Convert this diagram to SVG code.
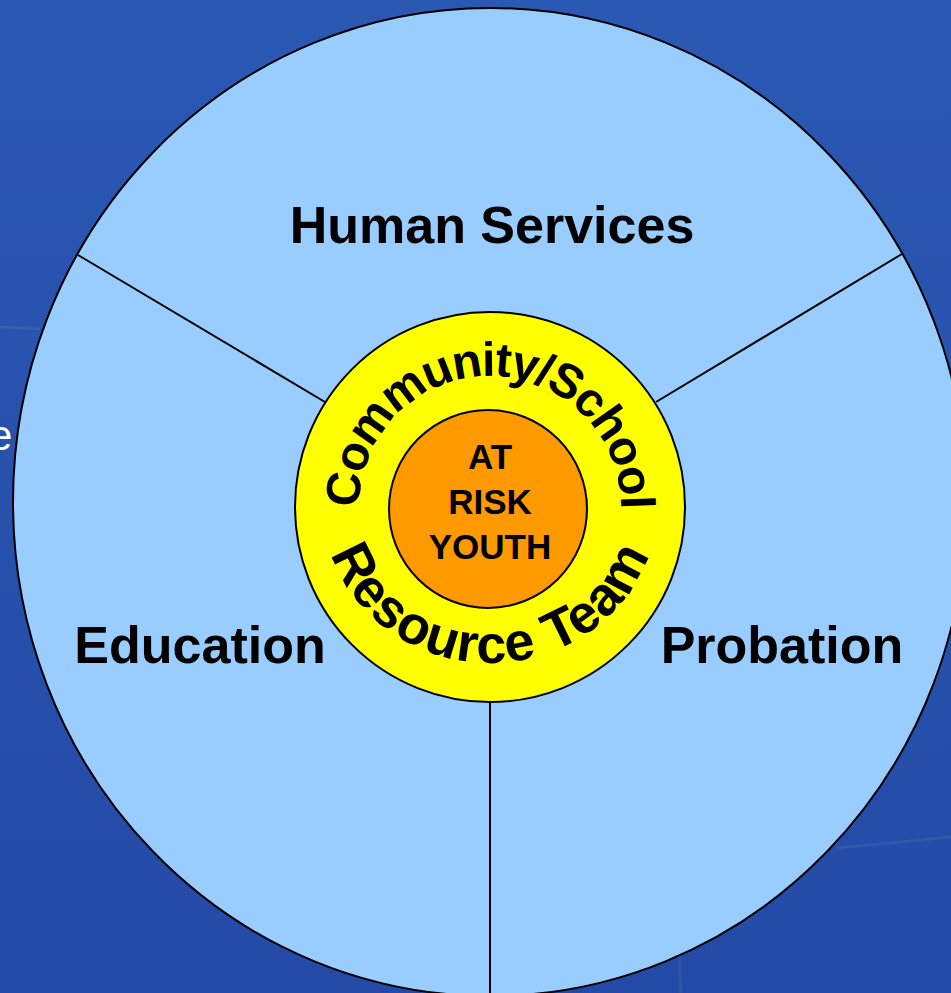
<svg xmlns="http://www.w3.org/2000/svg" xmlns:xlink="http://www.w3.org/1999/xlink" width="951" height="993" viewBox="0 0 951 993">
  <defs>
    <linearGradient id="bg" x1="0" y1="0" x2="0" y2="1">
      <stop offset="0" stop-color="#2a58b3"/>
      <stop offset="1" stop-color="#244aa7"/>
    </linearGradient>
    <path id="topArc" d="M 490,638 A 131 131 0 0 1 490,376 A 131 131 0 0 1 490,638"/>
    <path id="botArc" d="M 490,347 A 167 158 0 0 0 490,663 A 167 158 0 0 0 490,347"/>
    <style>
      .lbl { font-family: "Liberation Sans", Arial, Helvetica, sans-serif; font-weight: bold; fill: #000; }
      .big { font-size: 52px; text-anchor: middle; }
      .core { font-size: 35px; text-anchor: middle; }
      .edge { stroke: #000; stroke-width: 2; fill: none; }
      .streak { stroke: #ffffff; stroke-opacity: 0.06; stroke-width: 3; fill: none; }
    </style>
  </defs>

  <rect id="background" x="0" y="0" width="951" height="993" fill="url(#bg)"/>
  <path class="streak" d="M 0,327 L 40,329"/>
  <path class="streak" d="M 837,848 L 951,837"/>
  <path class="streak" d="M 679,955 L 681,993"/>
  <text x="-11" y="450" font-family="'Liberation Sans', Arial, sans-serif" font-size="42" fill="#ffffff">e</text>

  <g id="outer-circle">
    <ellipse cx="490" cy="502" rx="477" ry="494" fill="#99ccff" stroke="#000" stroke-width="2"/>
  </g>

  <g id="connectors">
    <line class="edge" x1="78" y1="255" x2="325" y2="402"/>
    <line class="edge" x1="902" y1="254" x2="656" y2="402"/>
    <line class="edge" x1="490" y1="702" x2="490" y2="993"/>
  </g>

  <g id="human-services">
    <text class="lbl big" x="492" y="243">Human Services</text>
  </g>
  <g id="education">
    <text class="lbl big" x="200" y="663">Education</text>
  </g>
  <g id="probation">
    <text class="lbl big" x="782" y="663">Probation</text>
  </g>

  <g id="community-school-resource-team">
    <circle cx="490" cy="507" r="195" fill="#ffff00" stroke="#000" stroke-width="2"/>
    <text class="lbl" font-size="48" letter-spacing="-1.5"><textPath xlink:href="#topArc" href="#topArc" startOffset="50%" text-anchor="middle">Community/School</textPath></text>
    <text class="lbl" font-size="54" letter-spacing="1"><textPath xlink:href="#botArc" href="#botArc" startOffset="50%" text-anchor="middle">Resource Team</textPath></text>
  </g>

  <g id="at-risk-youth">
    <circle cx="488" cy="509" r="99" fill="#ff9900" stroke="#000" stroke-width="2"/>
    <text class="lbl core" x="490" y="469">AT</text>
    <text class="lbl core" x="490" y="514">RISK</text>
    <text class="lbl core" x="490" y="559">YOUTH</text>
  </g>
</svg>
